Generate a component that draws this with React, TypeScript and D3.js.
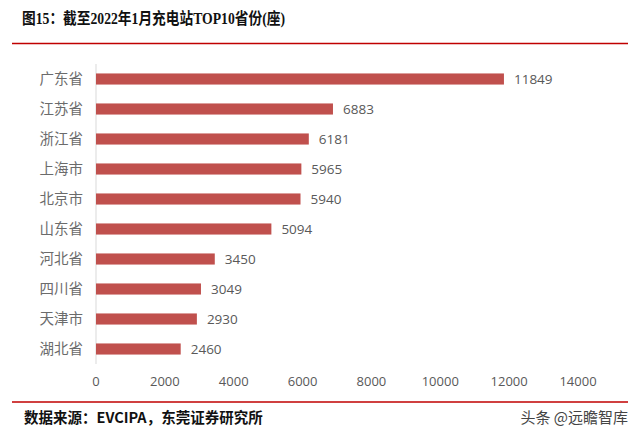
import React from "react";
import * as d3 from "d3";

const categories = ["广东省", "江苏省", "浙江省", "上海市", "北京市", "山东省", "河北省", "四川省", "天津市", "湖北省"];
const values = [11849, 6883, 6181, 5965, 5940, 5094, 3450, 3049, 2930, 2460];
const ticks = [0, 2000, 4000, 6000, 8000, 10000, 12000, 14000];

const titleText = "图15：截至2022年1月充电站TOP10省份(座)";
const sourceText = "数据来源：EVCIPA，东莞证券研究所";
const watermark = "头条 @远瞻智库";

const W = 640, H = 439;
const left = 96, right = 578, top = 64, bottom = 364;

export default function App() {
  const x = d3.scaleLinear().domain([0, 14000]).range([left, right]);
  const y = d3.scaleBand<string>().domain(categories).range([top, bottom]).paddingInner(0.63).paddingOuter(0.315);
  const cjk = '"Noto Sans CJK SC", sans-serif';
  const num = '"Open Sans", "Noto Sans", sans-serif';
  return (
    <svg width={W} height={H} style={{ position: "absolute", left: 0, top: 0, background: "#fff" }}>
      <text x={22} y={24} fontFamily={'"Liberation Serif", "Noto Sans CJK SC", serif'} fontWeight="bold" fontSize={16} textLength={263} lengthAdjust="spacingAndGlyphs" fill="#111">{titleText}</text>
      <line x1={12} x2={628} y1={43.5} y2={43.5} stroke="#c00000" strokeWidth={1.5} />
      <line x1={left} x2={left} y1={top} y2={bottom} stroke="#d9d9d9" strokeWidth={1} />
      {categories.map((c, i) => {
        const yy = y(c)!;
        const bh = y.bandwidth();
        return (
          <g key={c}>
            <rect x={x(0)} y={yy} width={x(values[i]) - x(0)} height={bh} fill="#c0504d" />
            <text x={x(values[i]) + 10} y={yy + bh / 2} dy="0.35em" fontFamily={num} fontSize={13.5} fill="#595959">{values[i]}</text>
            <text x={83} y={yy + bh / 2} dy="0.35em" textAnchor="end" fontFamily={cjk} fontSize={14.5} fill="#6b6b6b">{c}</text>
          </g>
        );
      })}
      {ticks.map(t => (
        <text key={t} x={x(t)} y={381} dy="0.35em" textAnchor="middle" fontFamily={num} fontSize={13} fill="#595959">{t}</text>
      ))}
      <line x1={12} x2={628} y1={402} y2={402} stroke="#c00000" strokeWidth={1.5} />
      <text x={24} y={423} fontFamily={cjk} fontWeight="bold" fontSize={14.5} fill="#111">{sourceText}</text>
      <text x={628} y={423} textAnchor="end" fontFamily={cjk} fontSize={15} fill="#444">{watermark}</text>
    </svg>
  );
}
